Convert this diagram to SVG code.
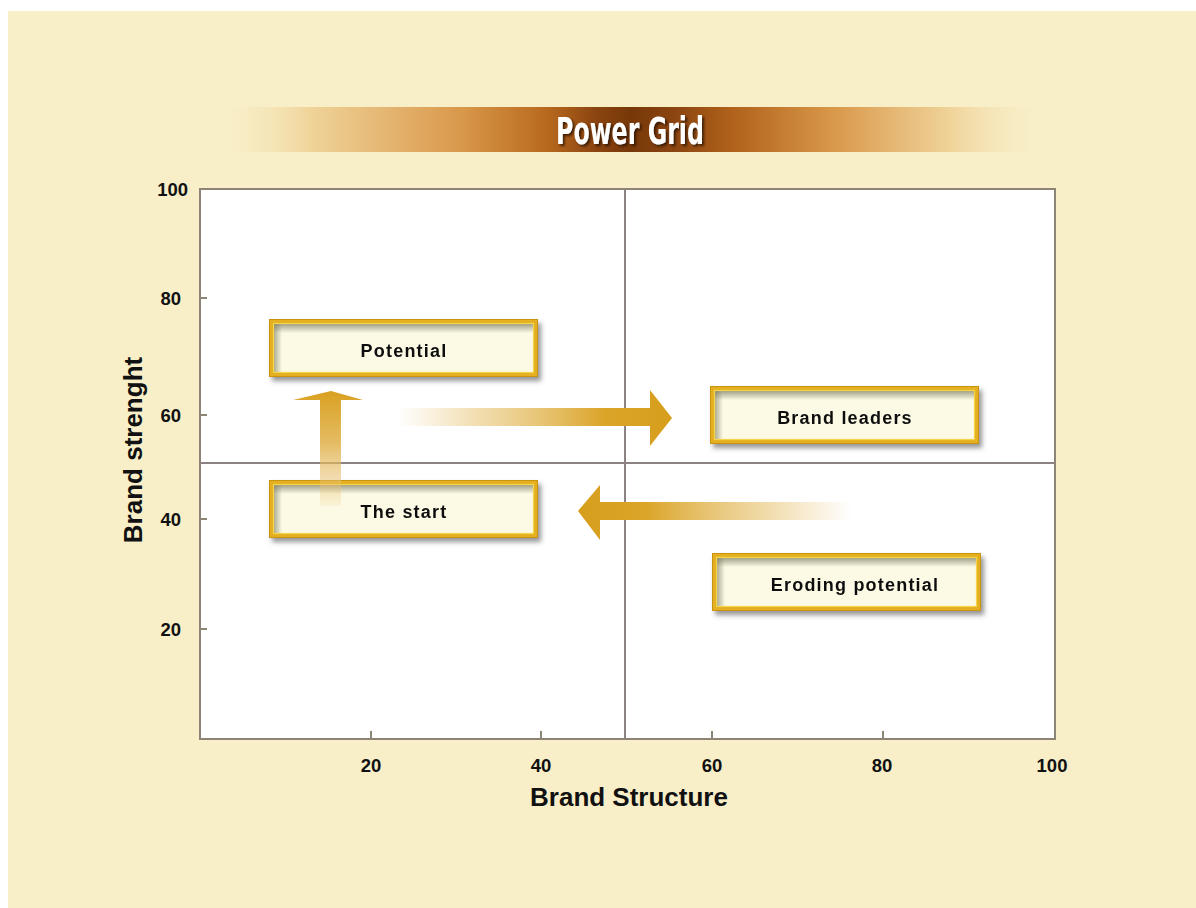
<svg xmlns="http://www.w3.org/2000/svg" width="1196" height="908" viewBox="0 0 1196 908">
<style>
.tick{font-family:"Liberation Sans",Arial,sans-serif;font-weight:bold;font-size:18.5px;fill:#111;}
.axis{font-family:"Liberation Sans",Arial,sans-serif;font-weight:bold;font-size:26px;fill:#111;}
.lbl{font-family:"Liberation Sans",Arial,sans-serif;font-weight:bold;font-size:18px;fill:#111;letter-spacing:1.2px;}
.frame{fill:none;stroke:#e4b020;stroke-width:5;}
.frameIn{fill:none;stroke:#f6d44c;stroke-width:1.2;}
.frameOut{fill:none;stroke:#c8940e;stroke-width:1;}
.grid{stroke:#8c8282;stroke-width:2;fill:none;}
.tk{stroke:#8c8474;stroke-width:2;}
</style>
<defs>
<linearGradient id="band" x1="0" y1="0" x2="1" y2="0">
<stop offset="0" stop-color="#f8efc9" stop-opacity="0"/>
<stop offset="0.12" stop-color="#f0d49a"/>
<stop offset="0.3" stop-color="#d9984a"/>
<stop offset="0.4" stop-color="#b86a1e"/>
<stop offset="0.46" stop-color="#8a4410"/>
<stop offset="0.5" stop-color="#773808"/>
<stop offset="0.55" stop-color="#8a4410"/>
<stop offset="0.62" stop-color="#b0621a"/>
<stop offset="0.74" stop-color="#d9984a"/>
<stop offset="0.88" stop-color="#f0d49a"/>
<stop offset="1" stop-color="#f8efc9" stop-opacity="0"/>
</linearGradient>
<linearGradient id="upG" x1="0" y1="391" x2="0" y2="506" gradientUnits="userSpaceOnUse">
<stop offset="0" stop-color="#d9a020"/>
<stop offset="0.45" stop-color="#e0b048" stop-opacity="0.85"/>
<stop offset="0.8" stop-color="#e8c070" stop-opacity="0.5"/>
<stop offset="1" stop-color="#eccb88" stop-opacity="0.15"/>
</linearGradient>
<linearGradient id="rightG" x1="398" y1="0" x2="672" y2="0" gradientUnits="userSpaceOnUse">
<stop offset="0" stop-color="#e8c070" stop-opacity="0"/>
<stop offset="0.3" stop-color="#e6c06a" stop-opacity="0.55"/>
<stop offset="0.75" stop-color="#dba52a"/>
<stop offset="1" stop-color="#d79e1c"/>
</linearGradient>
<linearGradient id="leftG" x1="578" y1="0" x2="852" y2="0" gradientUnits="userSpaceOnUse">
<stop offset="0" stop-color="#d79e1c"/>
<stop offset="0.25" stop-color="#dba52a"/>
<stop offset="0.7" stop-color="#e6c06a" stop-opacity="0.55"/>
<stop offset="1" stop-color="#e8c070" stop-opacity="0"/>
</linearGradient>
<linearGradient id="inTop" x1="0" y1="0" x2="0" y2="1">
<stop offset="0" stop-color="#7a7a60" stop-opacity="0.7"/>
<stop offset="1" stop-color="#7a7a60" stop-opacity="0"/>
</linearGradient>
<linearGradient id="inLeft" x1="0" y1="0" x2="1" y2="0">
<stop offset="0" stop-color="#7a7a60" stop-opacity="0.6"/>
<stop offset="1" stop-color="#7a7a60" stop-opacity="0"/>
</linearGradient>
<filter id="shadow" x="-10%" y="-30%" width="125%" height="170%">
<feGaussianBlur in="SourceAlpha" stdDeviation="2.5"/>
<feOffset dx="3" dy="4" result="b"/>
<feFlood flood-color="#505050" flood-opacity="0.6"/>
<feComposite in2="b" operator="in"/>
<feMerge><feMergeNode/><feMergeNode in="SourceGraphic"/></feMerge>
</filter>
<filter id="tshadow" x="-10%" y="-20%" width="120%" height="150%">
<feGaussianBlur in="SourceAlpha" stdDeviation="1"/>
<feOffset dx="1.5" dy="1.5" result="b"/>
<feFlood flood-color="#2a1200" flood-opacity="0.8"/>
<feComposite in2="b" operator="in"/>
<feMerge><feMergeNode/><feMergeNode in="SourceGraphic"/></feMerge>
</filter>
<g id="boxShape">
<rect x="0" y="0" width="269" height="58" fill="#fcfae4"/>
<rect x="5" y="5" width="259" height="9" fill="url(#inTop)"/>
<rect x="5" y="5" width="8" height="48" fill="url(#inLeft)"/>
<rect x="2.5" y="2.5" width="264" height="53" class="frame"/>
<rect x="0.5" y="0.5" width="268" height="57" class="frameOut"/>
<rect x="4.5" y="4.5" width="260" height="49" class="frameIn"/>
</g>
</defs>

<rect x="0" y="0" width="1196" height="908" fill="#ffffff"/>
<rect x="8" y="11" width="1188" height="897" fill="#f8efc9"/>

<g id="title">
<rect x="208" y="107" width="845" height="45" fill="url(#band)"/>
<text x="630" y="144" text-anchor="middle" font-family="'Liberation Sans Narrow','DejaVu Sans Condensed','Liberation Sans',sans-serif" font-weight="bold" font-size="37" fill="#ffffff" textLength="148" lengthAdjust="spacingAndGlyphs" filter="url(#tshadow)">Power Grid</text>
</g>

<g id="plot">
<rect x="200" y="189" width="855" height="550" fill="#ffffff" stroke="#8c8474" stroke-width="2"/>
<line class="grid" x1="625" y1="189" x2="625" y2="739"/>
<line class="grid" x1="200" y1="463" x2="1055" y2="463"/>
<line class="tk" x1="200" y1="298" x2="207" y2="298"/>
<line class="tk" x1="200" y1="415" x2="207" y2="415"/>
<line class="tk" x1="200" y1="519" x2="207" y2="519"/>
<line class="tk" x1="200" y1="629" x2="207" y2="629"/>
<line class="tk" x1="371" y1="739" x2="371" y2="731"/>
<line class="tk" x1="541" y1="739" x2="541" y2="731"/>
<line class="tk" x1="712" y1="739" x2="712" y2="731"/>
<line class="tk" x1="883" y1="739" x2="883" y2="731"/>
</g>

<g id="axis-labels">
<text class="tick" x="188" y="196" text-anchor="end">100</text>
<text class="tick" x="181" y="305" text-anchor="end">80</text>
<text class="tick" x="181" y="422" text-anchor="end">60</text>
<text class="tick" x="181" y="526" text-anchor="end">40</text>
<text class="tick" x="181" y="636" text-anchor="end">20</text>
<text class="tick" x="371" y="772" text-anchor="middle">20</text>
<text class="tick" x="541" y="772" text-anchor="middle">40</text>
<text class="tick" x="712" y="772" text-anchor="middle">60</text>
<text class="tick" x="882" y="772" text-anchor="middle">80</text>
<text class="tick" x="1052" y="772" text-anchor="middle">100</text>
<text class="axis" x="629" y="806" text-anchor="middle">Brand Structure</text>
<text class="axis" x="0" y="0" text-anchor="middle" transform="translate(142 450) rotate(-90)">Brand strenght</text>
</g>

<g id="node-potential" filter="url(#shadow)">
<use href="#boxShape" x="269" y="319"/>
<text class="lbl" x="404" y="357" text-anchor="middle">Potential</text>
</g>
<g id="node-brand-leaders" filter="url(#shadow)">
<use href="#boxShape" x="710" y="386"/>
<text class="lbl" x="845" y="424" text-anchor="middle">Brand leaders</text>
</g>
<g id="node-the-start" filter="url(#shadow)">
<use href="#boxShape" x="269" y="480"/>
<text class="lbl" x="404" y="518" text-anchor="middle">The start</text>
</g>
<g id="node-eroding-potential" filter="url(#shadow)">
<use href="#boxShape" x="712" y="553"/>
<text class="lbl" x="855" y="591" text-anchor="middle">Eroding potential</text>
</g>

<g id="connectors">
<polygon points="331,391 363,400 341,400 341,506 320,506 320,400 293,400" fill="url(#upG)"/>
<polygon points="398,408 650,408 650,390 672,418 650,446 650,426 398,426" fill="url(#rightG)"/>
<polygon points="578,511 600,485 600,502 852,502 852,520 600,520 600,540" fill="url(#leftG)"/>
</g>
</svg>
